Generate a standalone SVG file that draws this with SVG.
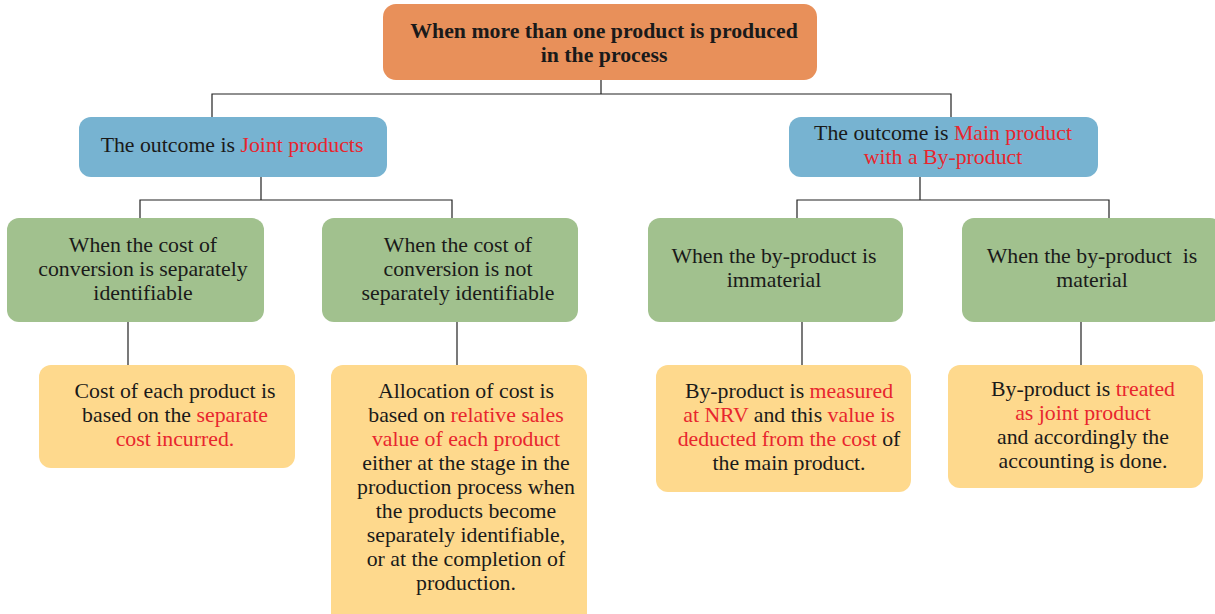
<svg xmlns="http://www.w3.org/2000/svg" width="1215" height="614" viewBox="0 0 1215 614">
<style>
text{font-family:"Liberation Serif","Times New Roman",serif;font-size:21.8px;fill:#1a1a1a;text-anchor:middle}
.b{font-weight:bold}
.r{fill:#e8262e}
.or{fill:#e8905a}
.bl{fill:#77b3d1}
.gr{fill:#a1c18e}
.ye{fill:#fed98d}
.ln{stroke:#222;stroke-width:1.2;fill:none}
</style>
<g id="connectors">
<path class="ln" d="M601 80V94M212 117V94H951V117"/>
<path class="ln" d="M261 177V200M140 218V200H452V218"/>
<path class="ln" d="M920 177V200M797 218V200H1109V218"/>
<path class="ln" d="M128 322V365M457 322V365M802 322V365M1081 322V365"/>
</g>
<g id="top">
<rect class="or" x="383" y="4" width="434" height="76" rx="13"/>
<text class="b" x="604" y="38">When more than one product is produced</text>
<text class="b" x="604" y="62">in the process</text>
</g>
<g id="joint">
<rect class="bl" x="79" y="117" width="308" height="60" rx="12"/>
<text x="232" y="152">The outcome is <tspan class="r">Joint products</tspan></text>
</g>
<g id="main">
<rect class="bl" x="789" y="117" width="309" height="60" rx="12"/>
<text x="943" y="140">The outcome is <tspan class="r">Main product</tspan></text>
<text class="r" x="943" y="164">with a By-product</text>
</g>
<g id="sep">
<rect class="gr" x="7" y="218" width="257" height="104" rx="12"/>
<text x="143" y="252">When the cost of</text>
<text x="143" y="276">conversion is separately</text>
<text x="143" y="300">identifiable</text>
</g>
<g id="notsep">
<rect class="gr" x="322" y="218" width="256" height="104" rx="12"/>
<text x="458" y="252">When the cost of</text>
<text x="458" y="276">conversion is not</text>
<text x="458" y="300">separately identifiable</text>
</g>
<g id="immaterial">
<rect class="gr" x="648" y="218" width="255" height="104" rx="12"/>
<text x="774" y="263">When the by-product is</text>
<text x="774" y="287">immaterial</text>
</g>
<g id="material">
<rect class="gr" x="962" y="218" width="260" height="104" rx="12"/>
<text x="1092" y="263" xml:space="preserve">When the by-product  is</text>
<text x="1092" y="287">material</text>
</g>
<g id="sepcost">
<rect class="ye" x="39" y="365" width="256" height="103" rx="12"/>
<text x="175" y="398">Cost of each product is</text>
<text x="175" y="422">based on the <tspan class="r">separate</tspan></text>
<text class="r" x="175" y="446">cost incurred.</text>
</g>
<g id="alloc">
<rect class="ye" x="331" y="365" width="256" height="262" rx="12"/>
<text x="466" y="398">Allocation of cost is</text>
<text x="466" y="422">based on <tspan class="r">relative sales</tspan></text>
<text class="r" x="466" y="446">value of each product</text>
<text x="466" y="470">either at the stage in the</text>
<text x="466" y="494">production process when</text>
<text x="466" y="518">the products become</text>
<text x="466" y="542">separately identifiable,</text>
<text x="466" y="566">or at the completion of</text>
<text x="466" y="590">production.</text>
</g>
<g id="nrv">
<rect class="ye" x="656" y="365" width="255" height="127" rx="12"/>
<text x="789" y="398">By-product is <tspan class="r">measured</tspan></text>
<text x="789" y="422"><tspan class="r">at NRV</tspan> and this <tspan class="r">value is</tspan></text>
<text x="789" y="446"><tspan class="r">deducted from the cost</tspan> of</text>
<text x="789" y="470">the main product.</text>
</g>
<g id="treated">
<rect class="ye" x="948" y="365" width="255" height="123" rx="12"/>
<text x="1083" y="396">By-product is <tspan class="r">treated</tspan></text>
<text class="r" x="1083" y="420">as joint product</text>
<text x="1083" y="444">and accordingly the</text>
<text x="1083" y="468">accounting is done.</text>
</g>
</svg>
